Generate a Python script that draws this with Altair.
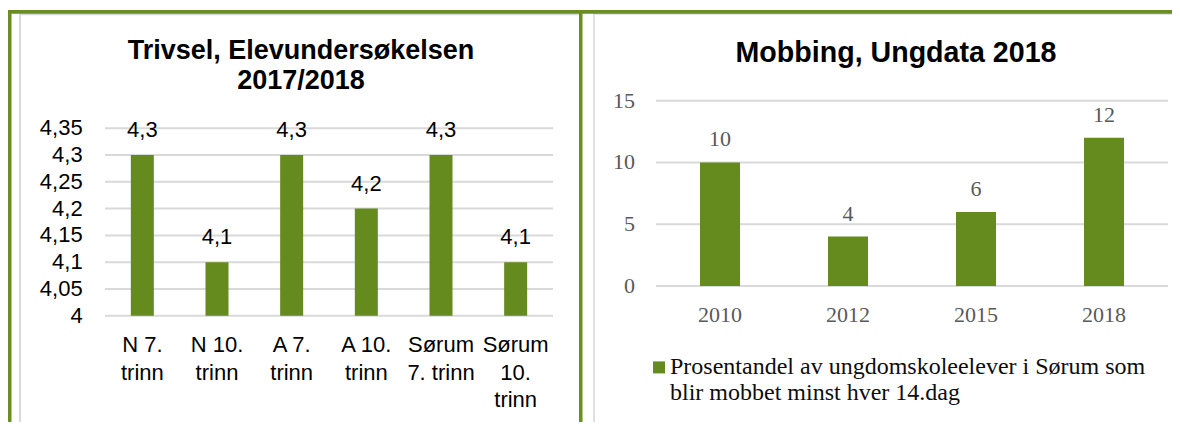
import json
import altair as alt
import pandas as pd

# ---------------- data ----------------
left_title = ["Trivsel, Elevundersøkelsen", "2017/2018"]
left_categories = ["N 7. trinn", "N 10. trinn", "A 7. trinn", "A 10. trinn",
                   "Sørum 7. trinn", "Sørum 10. trinn"]
left_label_lines = ["N 7.|trinn", "N 10.|trinn", "A 7.|trinn",
                    "A 10.|trinn", "Sørum|7. trinn", "Sørum|10.|trinn"]
left_values = [4.3, 4.1, 4.3, 4.2, 4.3, 4.1]
left_ticks = [4.0, 4.05, 4.1, 4.15, 4.2, 4.25, 4.3, 4.35]

right_title = "Mobbing, Ungdata 2018"
right_years = ["2010", "2012", "2015", "2018"]
right_values = [10, 4, 6, 12]
right_ticks = [0, 5, 10, 15]
legend_lines = ["Prosentandel av ungdomskoleelever i Sørum som",
                "blir mobbet minst hver 14.dag"]
legend_name = " ".join(legend_lines)

# ---------------- style / geometry ----------------
W, H = 1164, 414
GREEN = "#658A1E"
BORDER_GREEN = "#6B8E23"
GRID = "#D9D9D9"
SANS = "Liberation Sans"
SERIF = "Liberation Serif"
LFS = 22  # left panel text size

L_X = [97, 545]
L_Y = [307.7, 120.3]
R_X = [648, 1160]
R_Y = [278, 92.7]

left_df = pd.DataFrame({"cat": left_categories, "value": left_values,
                        "lines": left_label_lines})
left_grid = pd.DataFrame({"tick": left_ticks})
right_df = pd.DataFrame({"year": right_years, "value": right_values,
                         "series": [legend_name] * len(right_years)})
right_grid = pd.DataFrame({"tick": right_ticks})

dummy = alt.Data(values=[{"d": 1}])

# ---------------- left panel ----------------
lx = alt.Scale(domain=left_categories, range=L_X, paddingInner=0.692, paddingOuter=0.346)
ly = alt.Scale(domain=[4, 4.35], range=L_Y, nice=False, zero=False)

left_grid_layer = alt.Chart(left_grid).mark_rule(color=GRID, strokeWidth=2).encode(
    y=alt.Y("tick:Q", scale=ly, axis=None),
    x=alt.value(L_X[0]), x2=alt.value(L_X[1]))

left_ticklabels = alt.Chart(left_grid).transform_calculate(
    lab="replace(toString(datum.tick), '.', ',')"
).mark_text(align="right", baseline="middle", font=SANS, fontSize=LFS,
            color="#000000").encode(
    y=alt.Y("tick:Q", scale=ly, axis=None),
    x=alt.value(74.7), text="lab:N")

left_bars = alt.Chart(left_df).mark_bar(color=GREEN).encode(
    x=alt.X("cat:N", scale=lx, sort=left_categories, axis=None),
    y=alt.Y("value:Q", scale=ly, axis=None),
    y2=alt.datum(4))

left_catlabels = alt.Chart(left_df).mark_text(
    baseline="alphabetic", align="center", font=SANS, fontSize=LFS, lineHeight=27.6,
    lineBreak="|", color="#000000").encode(
    x=alt.X("cat:N", scale=lx, sort=left_categories, axis=None),
    y=alt.value(344.3), text="lines:N")

left_text = alt.Chart(left_df).transform_calculate(
    lab="replace(format(datum.value, '.1f'), '.', ',')"
).mark_text(baseline="alphabetic", dy=-18, font=SANS, fontSize=LFS, color="#000000").encode(
    x=alt.X("cat:N", scale=lx, sort=left_categories, axis=None),
    y=alt.Y("value:Q", scale=ly, axis=None),
    text="lab:N")

left_layer = alt.layer(left_grid_layer, left_ticklabels, left_bars, left_catlabels, left_text)

# ---------------- right panel ----------------
rx = alt.Scale(domain=right_years, range=R_X, paddingInner=0.6875, paddingOuter=0.34375)
ry = alt.Scale(domain=[0, 15], range=R_Y, nice=False)

right_grid_layer = alt.Chart(right_grid).mark_rule(color=GRID, strokeWidth=2).encode(
    y=alt.Y("tick:Q", scale=ry, axis=None),
    x=alt.value(R_X[0]), x2=alt.value(R_X[1]))

right_ticklabels = alt.Chart(right_grid).mark_text(
    align="right", baseline="middle", font=SERIF, fontSize=22, color="#595959").encode(
    y=alt.Y("tick:Q", scale=ry, axis=None),
    x=alt.value(627), text="tick:Q")

# square symbol lifted so that it sits beside the first text line
legend_symbol = "M-0.83,-2.1H1.17V-0.1H-0.83Z"

right_bars = alt.Chart(right_df).mark_bar().encode(
    x=alt.X("year:N", scale=rx, sort=right_years, axis=None),
    y=alt.Y("value:Q", scale=ry, axis=None),
    y2=alt.datum(0),
    color=alt.Color("series:N", scale=alt.Scale(domain=[legend_name], range=[GREEN]),
                    legend=alt.Legend(orient="none", legendX=638, legendY=354,
                                      title=None, symbolType=legend_symbol, symbolSize=144,
                                      symbolStrokeWidth=0, padding=0,
                                      labelExpr=json.dumps(legend_lines, ensure_ascii=False),
                                      labelFont=SERIF, labelFontSize=24,
                                      labelColor="#0D0D0D",
                                      labelBaseline="alphabetic", labelOffset=0,
                                      labelLimit=0)))

right_catlabels = alt.Chart(right_df).mark_text(
    baseline="alphabetic", align="center", font=SERIF, fontSize=22,
    color="#595959").encode(
    x=alt.X("year:N", scale=rx, sort=right_years, axis=None),
    y=alt.value(314), text="year:N")

right_text = alt.Chart(right_df).mark_text(
    baseline="alphabetic", dy=-16, font=SERIF, fontSize=22, color="#595959").encode(
    x=alt.X("year:N", scale=rx, sort=right_years, axis=None),
    y=alt.Y("value:Q", scale=ry, axis=None),
    text="value:Q")

right_layer = alt.layer(right_grid_layer, right_ticklabels, right_bars,
                        right_catlabels, right_text)

# ---------------- frame decorations ----------------
def hline(y, x1, x2, color, w):
    return alt.Chart(dummy).mark_rule(color=color, strokeWidth=w).encode(
        x=alt.value(x1), x2=alt.value(x2), y=alt.value(y))


def vline(x, y1, y2, color, w):
    return alt.Chart(dummy).mark_rule(color=color, strokeWidth=w).encode(
        y=alt.value(y1), y2=alt.value(y2), x=alt.value(x))


frame = [
    hline(6.3, 11, 571, GRID, 2),
    vline(12, 5.3, H, GRID, 2),
    hline(5.7, 586, W, GRID, 2),
    vline(586, 4.7, H, GRID, 1.6),
    hline(3.85, 0, W, BORDER_GREEN, 3.7),
    vline(1.75, 2, H, BORDER_GREEN, 3.5),
    vline(572.75, 2, H, BORDER_GREEN, 3.5),
]

titles = [
    alt.Chart(dummy).mark_text(text=left_title, font=SANS, fontWeight="bold", fontSize=27,
                               lineHeight=30, baseline="alphabetic", align="center",
                               color="#000000").encode(x=alt.value(293), y=alt.value(51.3)),
    alt.Chart(dummy).mark_text(text=right_title, font=SANS, fontWeight="bold", fontSize=28.6,
                               baseline="alphabetic", align="center",
                               color="#000000").encode(x=alt.value(888), y=alt.value(53.7)),
]

chart = alt.layer(*frame, *titles, left_layer, right_layer).resolve_scale(
    x="independent", y="independent", color="independent"
).properties(
    width=W, height=H, padding=0,
    autosize=alt.AutoSizeParams(type="none"),
    background="white",
).configure_view(stroke=None)

chart.save("out.html", embed_options={"renderer": "svg", "actions": False})
